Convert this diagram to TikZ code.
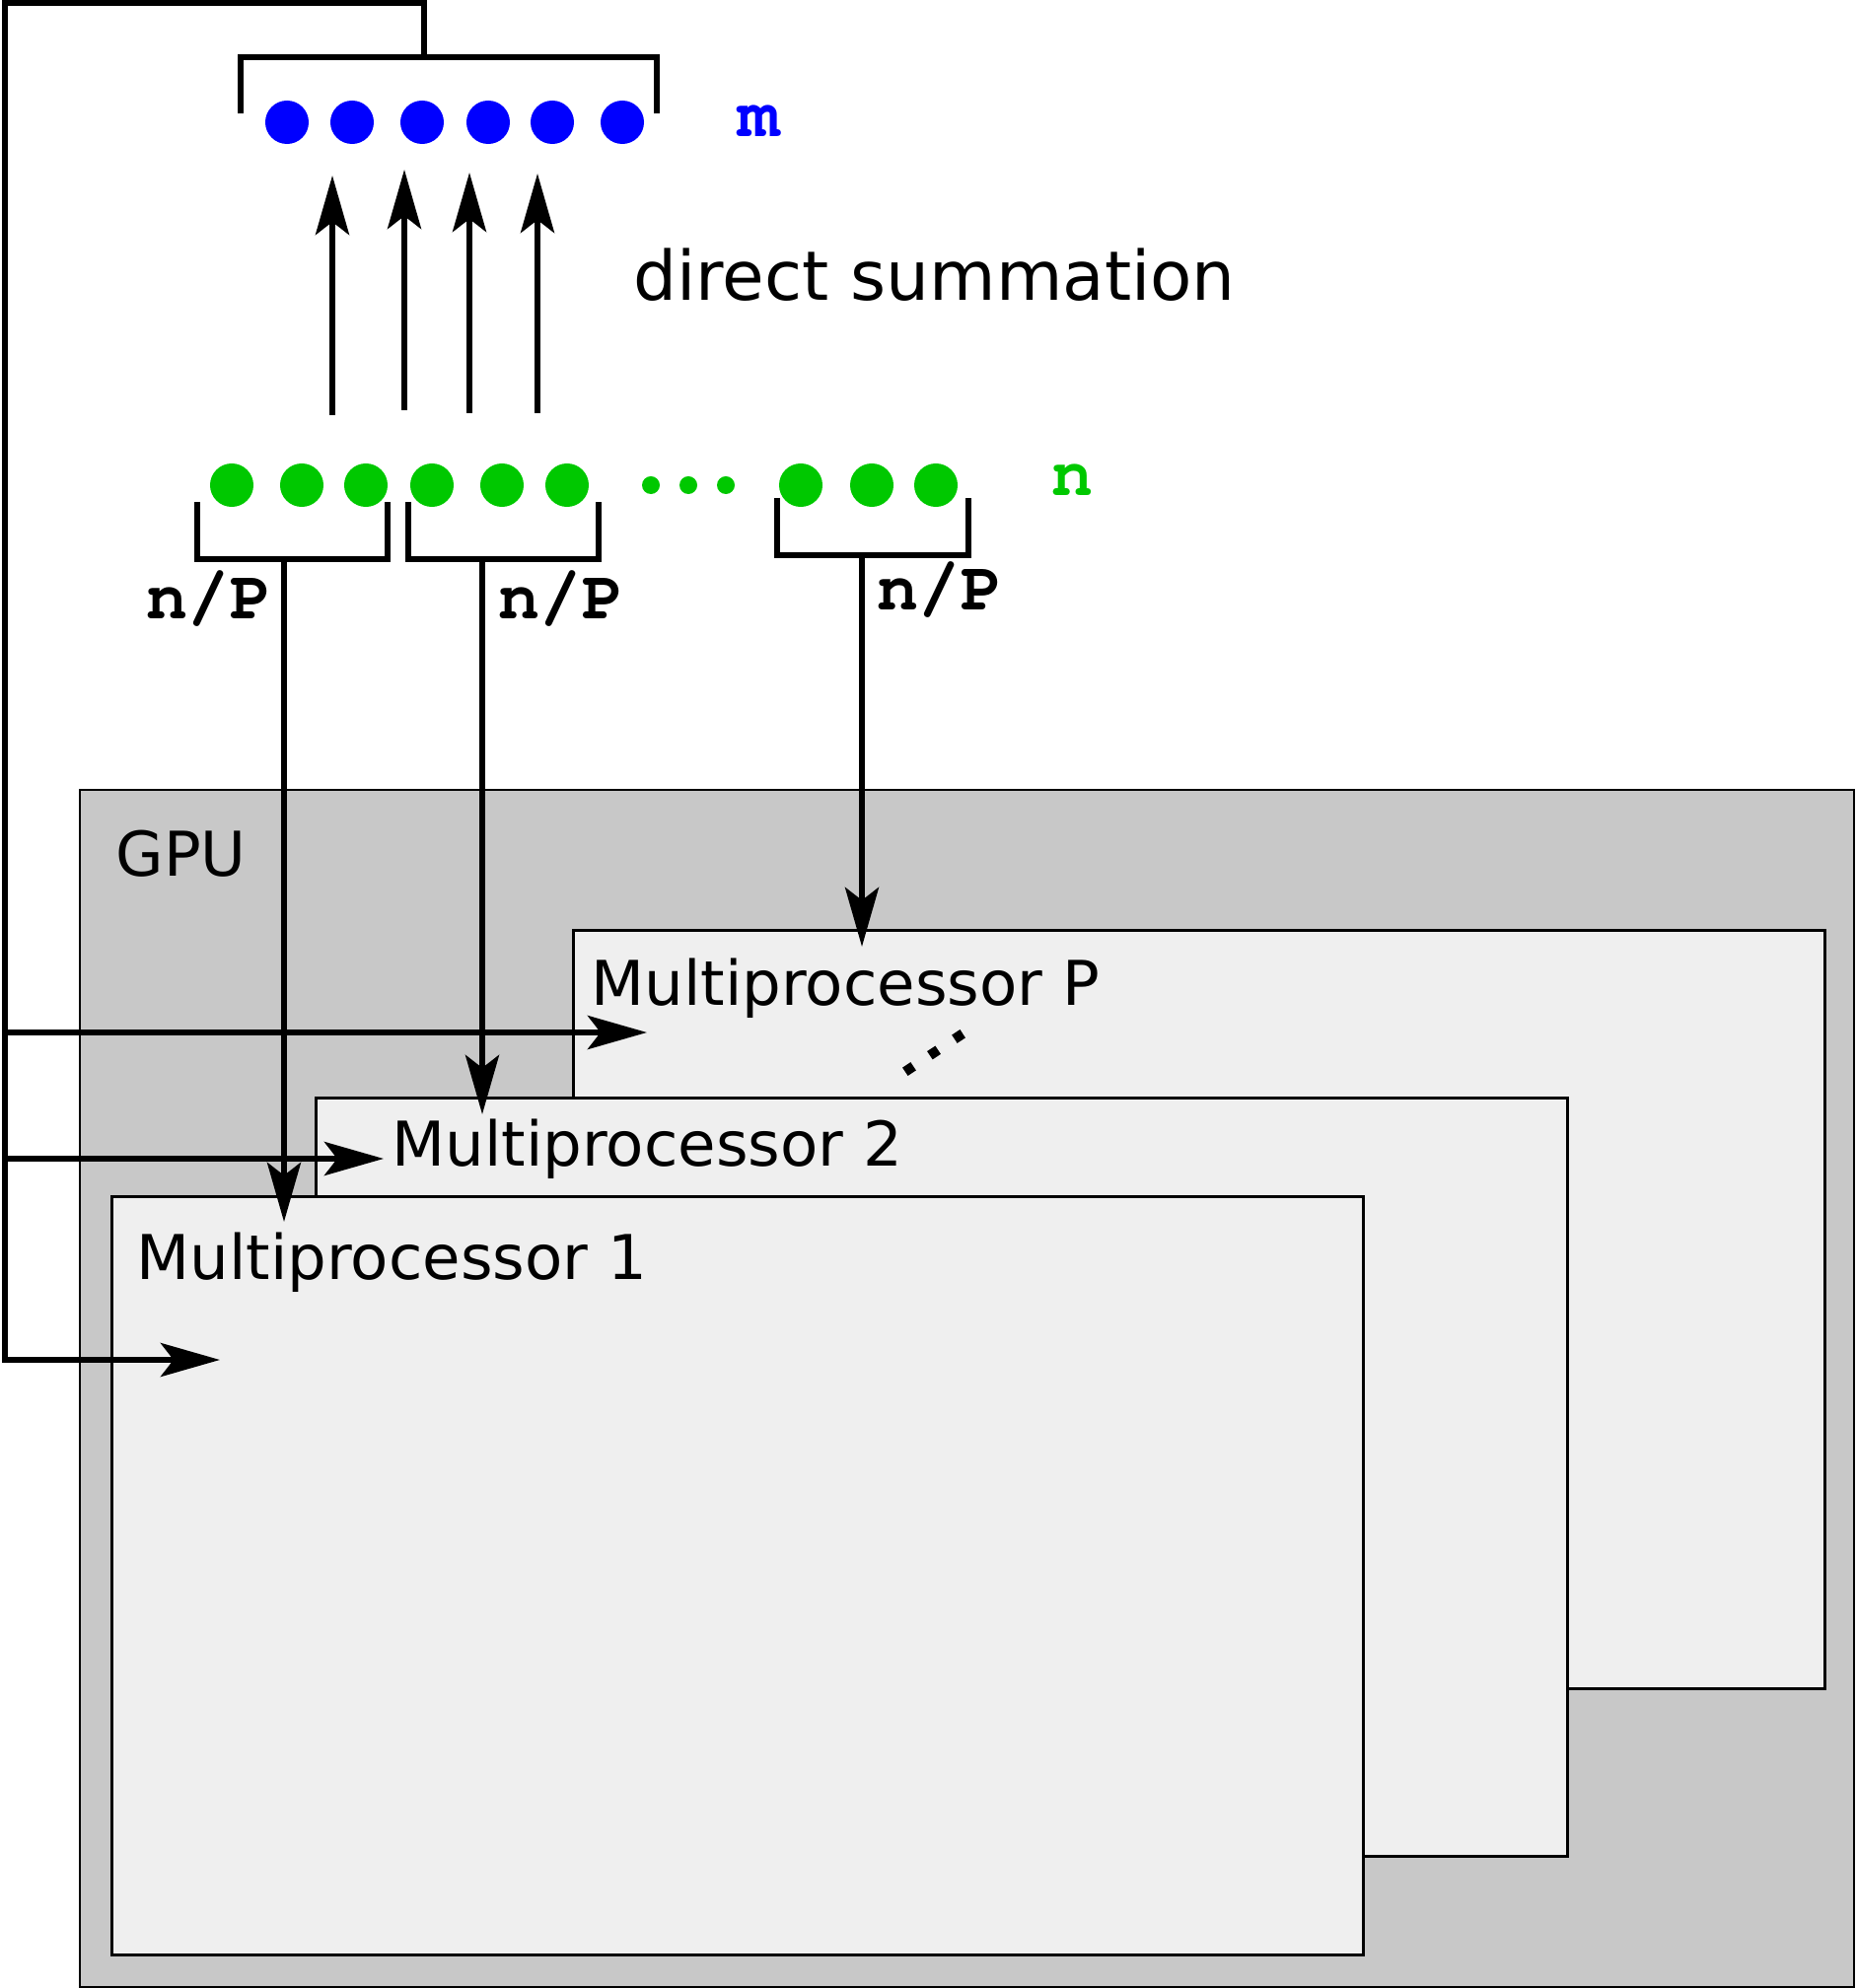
\documentclass[tikz,border=0pt]{standalone}
\usepackage{fontspec}
\setmainfont{DejaVu Sans}
\newcommand\countfont{\fontencoding{T1}\fontfamily{pcr}\fontseries{b}\selectfont}
\usetikzlibrary{arrows.meta}

\definecolor{dotblue}{RGB}{0,0,255}
\definecolor{dotgreen}{RGB}{0,200,0}
\definecolor{gpugray}{RGB}{200,200,200}
\definecolor{procgray}{RGB}{239,239,239}

\begin{document}
\begin{tikzpicture}[x=0.01cm,y=-0.01cm,
    wire/.style={line width=0.06cm},
    flow/.style={wire,-{Stealth[length=0.6cm,width=0.34cm,inset=0.13cm]}},
    bluedot/.style={circle,fill=dotblue,minimum size=0.44cm,inner sep=0},
    greendot/.style={circle,fill=dotgreen,minimum size=0.44cm,inner sep=0},
    smalldot/.style={circle,fill=dotgreen,minimum size=0.18cm,inner sep=0},
    board/.style={draw,line width=0.02cm,fill=gpugray,anchor=north west,inner sep=0},
    proc/.style={draw,line width=0.03cm,fill=procgray,anchor=north west,inner sep=0,
        minimum width=12.68cm,minimum height=7.69cm},
    title/.style={anchor=base west,inner sep=0,font=\fontsize{17.8}{20}\selectfont},
    count/.style={anchor=base,inner sep=0,font=\fontsize{20}{22}\countfont}]
    \useasboundingbox (0,0) rectangle (1881,2016);

    % boxes
    \node[board,minimum width=17.98cm,minimum height=12.13cm] (gpu) at (80,800) {};
    \node[proc] (mpP) at (580,942) {};
    \node[proc] (mp2) at (319,1112) {};
    \node[proc] (mp1) at (112,1212) {};

    \node[title] (gpulbl) at (117,888) {GPU};
    \node[title] (mpPlbl) at (599,1019) {Multiprocessor P};
    \node[title] (mp2lbl) at (397,1182) {Multiprocessor 2};
    \node[title] (mp1lbl) at (138,1297) {Multiprocessor 1};
    \draw[line width=0.1cm,dash pattern=on 0.1cm off 0.2cm] (917.8,1086.8) -- (976.2,1048.2);

    % dots
    \foreach \x [count=\i] in {291,357,428,495,560,631}
        \node[bluedot] (m\i) at (\x,124) {};
    \foreach \x [count=\i] in {235,306,371,438,509,575,812,884,949}
        \node[greendot] (n\i) at (\x,492) {};
    \foreach \x [count=\i] in {660,698,736}
        \node[smalldot] (gap\i) at (\x,492) {};

    \node[count,text=dotblue] (mlbl) at (770,139) {m};
    \node[count,text=dotgreen] (nlbl) at (1088,503) {n};
    \node[count] (np1) at (212,628) {n/P};
    \node[count] (np2) at (569,628) {n/P};
    \node[count] (npP) at (953,619) {n/P};
    \node[anchor=base west,inner sep=0,font=\fontsize{19.7}{22}\selectfont] (sumlbl) at (642,305) {direct summation};

    % brackets
    \draw[wire] (244,115) -- (244,58) -- (666,58) -- (666,115);
    \draw[wire] (200,509) -- (200,567) -- (393,567) -- (393,509);
    \draw[wire] (414,509) -- (414,567) -- (607,567) -- (607,509);
    \draw[wire] (788,505) -- (788,563) -- (982,563) -- (982,505);

    % ends
    \coordinate (mtop) at (430,58);
    \coordinate (corner) at (5,3);
    \coordinate (tapP) at (5,1047);
    \coordinate (inP) at (656,1047);
    \coordinate (tap2) at (5,1175);
    \coordinate (in2) at (389,1175);
    \coordinate (tap1) at (5,1379);
    \coordinate (in1) at (223,1379);
    \coordinate (b1) at (288,567);
    \coordinate (d1) at (288,1239);
    \coordinate (b2) at (489,567);
    \coordinate (d2) at (489,1130);
    \coordinate (bP) at (874,563);
    \coordinate (dP) at (874,960);

    % edges
    \foreach \x/\ya/\yb [count=\i] in {337/421/178,410/416/172,476/419/175,545/419/176} {
        \coordinate (up\i a) at (\x,\ya);
        \coordinate (up\i b) at (\x,\yb);
        \draw[flow] (up\i a) -- (up\i b);
    }
    \draw[flow] (b1) -- (d1);
    \draw[flow] (b2) -- (d2);
    \draw[flow] (bP) -- (dP);
    \draw[flow] (mtop) |- (corner) -- (tap1) -- (in1);
    \draw[flow] (tapP) -- (inP);
    \draw[flow] (tap2) -- (in2);
\end{tikzpicture}
\end{document}
